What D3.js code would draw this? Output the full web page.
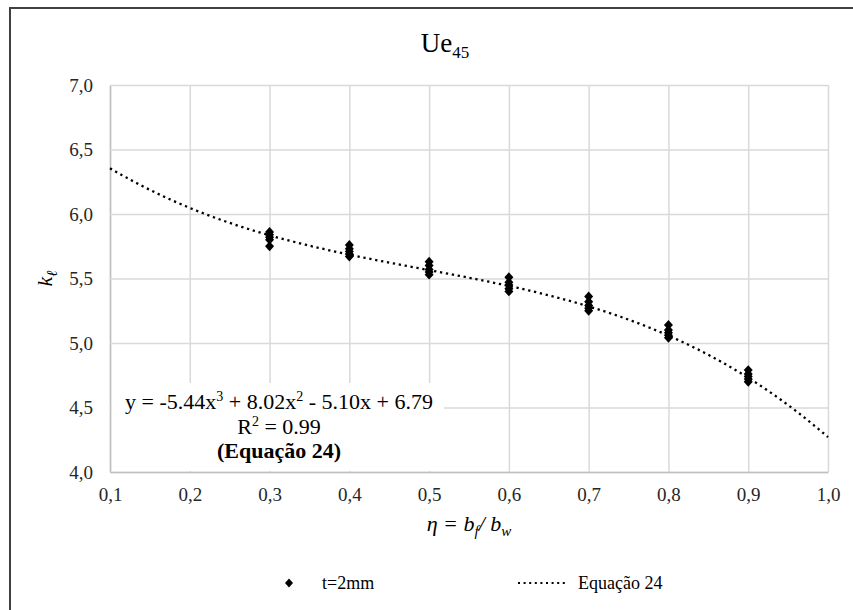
<!DOCTYPE html>
<html>
<head>
<meta charset="utf-8">
<script src="https://cdn.jsdelivr.net/npm/d3@7"></script>
<style>
  body { margin: 0; background: #fff; }
</style>
</head>
<body>
<div id="chart-area"></div>
<script>
// data
const etaLevels = [0.3, 0.4, 0.5, 0.6, 0.7, 0.8, 0.9]
const klAt03 = [5.86, 5.84, 5.82, 5.80, 5.75]
const klAt04 = [5.76, 5.73, 5.71, 5.69, 5.67]
const klAt05 = [5.63, 5.60, 5.57, 5.55, 5.53]
const klAt06 = [5.51, 5.47, 5.45, 5.42, 5.40]
const klAt07 = [5.36, 5.32, 5.29, 5.27, 5.25]
const klAt08 = [5.14, 5.10, 5.08, 5.06, 5.04]
const klAt09 = [4.79, 4.76, 4.74, 4.72, 4.70]
const klSeries = [klAt03, klAt04, klAt05, klAt06, klAt07, klAt08, klAt09]
// trendline coefficients (c0 + c1 x + c2 x^2 + c3 x^3), as printed on the chart
const trendCoef = [6.79, -5.10, 8.02, -5.44]
const xTicks = [0.1, 0.2, 0.3, 0.4, 0.5, 0.6, 0.7, 0.8, 0.9, 1.0]
const yTicks = [4.0, 4.5, 5.0, 5.5, 6.0, 6.5, 7.0]

const FONT = '"Liberation Serif"'
const MARGIN = { LEFT: 110, RIGHT: 25, TOP: 85, BOTTOM: 138 }
const W = 853, H = 610
const WIDTH = W - MARGIN.LEFT - MARGIN.RIGHT
const HEIGHT = H - MARGIN.TOP - MARGIN.BOTTOM

const points = []
etaLevels.forEach((e, i) => klSeries[i].forEach(k => points.push({ eta: e, kl: k })))

const svg = d3.select("#chart-area").append("svg")
  .attr("width", W)
  .attr("height", H)
  .style("display", "block")

// chart frame
svg.append("rect")
  .attr("x", 10).attr("y", 8)
  .attr("width", 900).attr("height", 700)
  .attr("fill", "#fff")
  .attr("stroke", "#404040")
  .attr("stroke-width", 2)

const g = svg.append("g")
  .attr("transform", `translate(${MARGIN.LEFT}, ${MARGIN.TOP})`)

const x = d3.scaleLinear().domain([0.1, 1.0]).range([0, WIDTH])
const y = d3.scaleLinear().domain([4.0, 7.0]).range([HEIGHT, 0])
const fmt = d => d3.format(".1f")(d).replace(".", ",")

// vertical grid
g.append("g")
  .attr("transform", `translate(0, ${HEIGHT})`)
  .call(d3.axisBottom(x).tickValues(xTicks).tickFormat("").tickSizeInner(-HEIGHT).tickSizeOuter(0))
  .call(a => a.select(".domain").remove())
  .selectAll(".tick line").attr("stroke", "#d9d9d9").attr("stroke-width", 1.5)

// y axis + horizontal grid
const yAxis = g.append("g")
  .call(d3.axisLeft(y).tickValues(yTicks).tickFormat(fmt)
    .tickSizeInner(-WIDTH).tickSizeOuter(0).tickPadding(17))
yAxis.selectAll(".tick line").attr("stroke", "#d9d9d9").attr("stroke-width", 1.5)
yAxis.select(".domain").attr("stroke", "#bfbfbf").attr("stroke-width", 1.5)

// x axis
const xAxis = g.append("g")
  .attr("transform", `translate(0, ${HEIGHT})`)
  .call(d3.axisBottom(x).tickValues(xTicks).tickFormat(fmt)
    .tickSize(0).tickPadding(16))
xAxis.select(".domain").attr("stroke", "#bfbfbf").attr("stroke-width", 1.5)

g.selectAll(".tick text")
  .attr("font-family", FONT).style("font-family", FONT)
  .attr("font-size", 19).style("font-size", "19px")
  .attr("fill", "#262626")

// trendline
const curveX = d3.range(0.1, 1.0001, 0.005)
const poly = t => trendCoef.reduce((s, c, i) => s + c * Math.pow(t, i), 0)
g.append("path")
  .datum(curveX)
  .attr("fill", "none")
  .attr("stroke", "#000")
  .attr("stroke-width", 2.3)
  .attr("stroke-dasharray", "2.3 3.7")
  .attr("d", d3.line().x(d => x(d)).y(d => y(poly(d))))

// diamond marker
const diamond = {
  draw(ctx, size) {
    const w = Math.sqrt(size) / 2, h = w * 1.1
    ctx.moveTo(0, -h); ctx.lineTo(w, 0); ctx.lineTo(0, h); ctx.lineTo(-w, 0); ctx.closePath()
  }
}

g.selectAll("path.pt")
  .data(points)
  .enter().append("path")
  .attr("class", "pt")
  .attr("transform", d => `translate(${x(d.eta)}, ${y(d.kl)})`)
  .attr("d", d3.symbol().type(diamond).size(81))
  .attr("fill", "#000")

// helper for serif text
const txt = (sel, size) => sel.append("text")
  .attr("font-family", FONT).style("font-family", FONT)
  .attr("font-size", size).style("font-size", size + "px")
  .attr("fill", "#000")

// equation label with white background
const eqBox = g.append("g")
eqBox.append("rect")
  .attr("x", 2).attr("y", 298)
  .attr("width", 332).attr("height", HEIGHT - 299)
  .attr("fill", "#fff")
const eqCx = 169
const l1 = txt(eqBox, 22).attr("x", eqCx).attr("y", 324).attr("text-anchor", "middle")
l1.append("tspan").text("y = -5.44x")
l1.append("tspan").text("3").style("font-size", "14px").attr("dy", -8)
l1.append("tspan").text(" + 8.02x").attr("dy", 8)
l1.append("tspan").text("2").style("font-size", "14px").attr("dy", -8)
l1.append("tspan").text(" - 5.10x + 6.79").attr("dy", 8)
const l2 = txt(eqBox, 22).attr("x", eqCx).attr("y", 349).attr("text-anchor", "middle")
l2.append("tspan").text("R")
l2.append("tspan").text("2").style("font-size", "14px").attr("dy", -8)
l2.append("tspan").text(" = 0.99").attr("dy", 8)
txt(eqBox, 22).attr("x", eqCx).attr("y", 373).attr("text-anchor", "middle")
  .attr("font-weight", "bold")
  .text("(Equação 24)")

// title
const title = txt(svg, 27).attr("x", 445).attr("y", 52).attr("text-anchor", "middle")
title.append("tspan").text("Ue")
title.append("tspan").text("45").style("font-size", "17px").attr("dy", 6)

// x label
const xl = txt(g, 22).attr("x", WIDTH / 2).attr("y", HEIGHT + 59)
  .attr("text-anchor", "middle").attr("font-style", "italic")
xl.append("tspan").text("η = b")
xl.append("tspan").text("f").style("font-size", "15px").attr("dy", 5)
xl.append("tspan").text("/ b").attr("dy", -5)
xl.append("tspan").text("w").style("font-size", "15px").attr("dy", 5)

// y label
const yl = txt(g, 22).attr("transform", `translate(-58, ${HEIGHT / 2}) rotate(-90)`)
  .attr("text-anchor", "middle").attr("font-style", "italic")
yl.append("tspan").text("k")
yl.append("tspan").text("ℓ").style("font-size", "15px").attr("dy", 5)

// legend
const leg = svg.append("g").attr("transform", "translate(0, 583)")
leg.append("path")
  .attr("transform", "translate(289, 0)")
  .attr("d", d3.symbol().type(diamond).size(64))
  .attr("fill", "#000")
txt(leg, 18).attr("x", 322).attr("y", 6).text("t=2mm")
leg.append("line")
  .attr("x1", 518).attr("x2", 568).attr("y1", 0).attr("y2", 0)
  .attr("stroke", "#000").attr("stroke-width", 2)
  .attr("stroke-dasharray", "2 3.6")
txt(leg, 18).attr("x", 578).attr("y", 6).text("Equação 24")
</script>
</body>
</html>
